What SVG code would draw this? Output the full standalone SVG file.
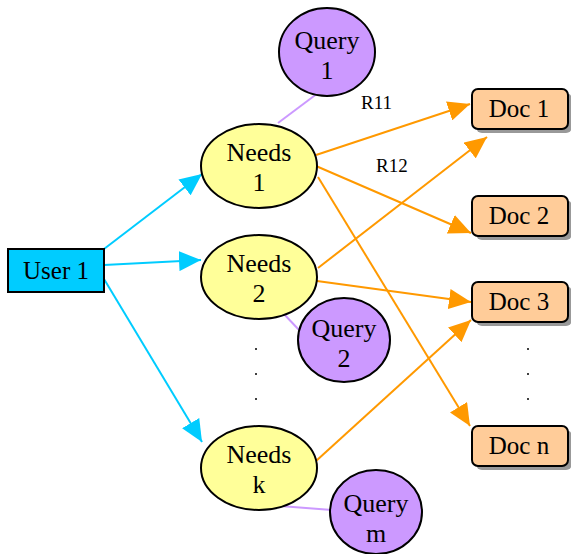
<svg xmlns="http://www.w3.org/2000/svg" width="571" height="554" viewBox="0 0 571 554">
  <style>
    .lbl { font-family: "Liberation Serif", "Times New Roman", serif; font-size: 26px; fill: #000; text-anchor: middle; }
    .box-lbl { font-family: "Liberation Serif", "Times New Roman", serif; font-size: 25px; fill: #000; text-anchor: middle; }
    .edge-lbl { font-family: "Liberation Serif", "Times New Roman", serif; font-size: 19px; fill: #000; }
    .needs { fill: #FFFF99; stroke: #000; stroke-width: 2; }
    .query { fill: #CC99FF; stroke: #000; stroke-width: 2; }
    .doc { fill: #FFCC99; stroke: #000; stroke-width: 2; }
    .doc-shadow { fill: #999; }
    .user { fill: #00CCFF; stroke: #000; stroke-width: 2; }
    .cyan { stroke: #00CCFF; stroke-width: 2; fill: none; marker-end: url(#arrCyan); }
    .orange { stroke: #FF9900; stroke-width: 2; fill: none; marker-end: url(#arrOrange); }
    .link { stroke: #CC99FF; stroke-width: 2; fill: none; }
    .dot { fill: #000; }
  </style>
  <defs>
    <marker id="arrCyan" markerUnits="userSpaceOnUse" markerWidth="24" markerHeight="20" refX="22" refY="10" orient="auto">
      <path d="M0,0 L22,10 L0,20 Z" fill="#00CCFF"/>
    </marker>
    <marker id="arrOrange" markerUnits="userSpaceOnUse" markerWidth="24" markerHeight="20" refX="22" refY="10" orient="auto">
      <path d="M0,0 L22,10 L0,20 Z" fill="#FF9900"/>
    </marker>
  </defs>

  <!-- connectors -->
  <g id="connectors">
    <line class="cyan" x1="104" y1="249" x2="202" y2="174"/>
    <line class="cyan" x1="104" y1="265" x2="201" y2="260"/>
    <line class="cyan" x1="104" y1="279" x2="202" y2="442"/>
    <line class="link" x1="318" y1="93" x2="278" y2="123"/>
    <line class="link" x1="282" y1="312" x2="300" y2="331"/>
    <line class="link" x1="280" y1="506" x2="332" y2="510"/>
    <line class="orange" x1="316" y1="155" x2="470" y2="104"/>
    <line class="orange" x1="316" y1="166" x2="471" y2="233"/>
    <line class="orange" x1="318" y1="177" x2="470" y2="426"/>
    <line class="orange" x1="318" y1="268" x2="487" y2="137"/>
    <line class="orange" x1="317" y1="281" x2="471" y2="302"/>
    <line class="orange" x1="316" y1="461" x2="471" y2="320"/>
    <text class="edge-lbl" x="361" y="109">R11</text>
    <text class="edge-lbl" x="376" y="172">R12</text>
  </g>

  <g id="user1">
    <rect class="user" x="8" y="249" width="96" height="43"/>
    <text class="box-lbl" x="56" y="279">User 1</text>
  </g>

  <g id="query1">
    <ellipse class="query" cx="327" cy="52" rx="48" ry="44"/>
    <text class="lbl" x="327" y="49">Query</text>
    <text class="lbl" x="327" y="79">1</text>
  </g>
  <g id="query2">
    <ellipse class="query" cx="344" cy="340" rx="46" ry="42"/>
    <text class="lbl" x="344" y="337">Query</text>
    <text class="lbl" x="344" y="367">2</text>
  </g>
  <g id="querym">
    <ellipse class="query" cx="376" cy="512" rx="46" ry="42"/>
    <text class="lbl" x="376" y="512">Query</text>
    <text class="lbl" x="376" y="542">m</text>
  </g>

  <g id="needs1">
    <ellipse class="needs" cx="259" cy="166" rx="58" ry="42"/>
    <text class="lbl" x="259" y="161">Needs</text>
    <text class="lbl" x="259" y="191">1</text>
  </g>
  <g id="needs2">
    <ellipse class="needs" cx="259" cy="277" rx="58" ry="42"/>
    <text class="lbl" x="259" y="272">Needs</text>
    <text class="lbl" x="259" y="302">2</text>
  </g>
  <g id="needsk">
    <ellipse class="needs" cx="259" cy="468" rx="58" ry="42"/>
    <text class="lbl" x="259" y="463">Needs</text>
    <text class="lbl" x="259" y="493">k</text>
  </g>

  <g id="doc1">
    <rect class="doc-shadow" x="476" y="93" width="96" height="40" rx="6"/>
    <rect class="doc" x="472" y="89" width="96" height="40" rx="6"/>
    <text class="box-lbl" x="519" y="117">Doc 1</text>
  </g>
  <g id="doc2">
    <rect class="doc-shadow" x="476" y="200" width="96" height="40" rx="6"/>
    <rect class="doc" x="472" y="196" width="96" height="40" rx="6"/>
    <text class="box-lbl" x="519" y="224">Doc 2</text>
  </g>
  <g id="doc3">
    <rect class="doc-shadow" x="476" y="286" width="96" height="40" rx="6"/>
    <rect class="doc" x="472" y="282" width="96" height="40" rx="6"/>
    <text class="box-lbl" x="519" y="310">Doc 3</text>
  </g>
  <g id="docn">
    <rect class="doc-shadow" x="476" y="430" width="96" height="40" rx="6"/>
    <rect class="doc" x="472" y="426" width="96" height="40" rx="6"/>
    <text class="box-lbl" x="519" y="454">Doc n</text>
  </g>

  <!-- ellipsis markers -->
  <g id="dots">
    <circle class="dot" cx="256" cy="349" r="1"/>
    <circle class="dot" cx="256" cy="374" r="1"/>
    <circle class="dot" cx="256" cy="399" r="1"/>
    <circle class="dot" cx="528" cy="349" r="1"/>
    <circle class="dot" cx="528" cy="374" r="1"/>
    <circle class="dot" cx="528" cy="399" r="1"/>
  </g>
</svg>
